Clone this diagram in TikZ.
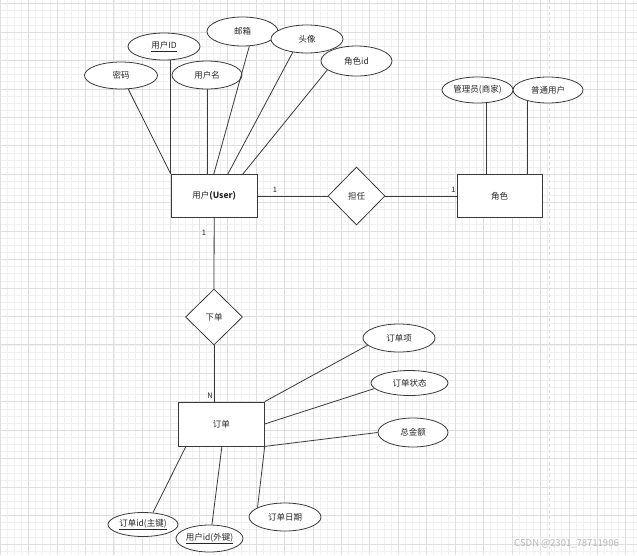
\documentclass[tikz,border=0pt]{standalone}
\usepackage{fontspec}
\setmainfont{Noto Sans CJK SC}
\usetikzlibrary{shapes.geometric,calc}
\definecolor{minorgrid}{HTML}{F0F0F0}
\definecolor{majorgrid}{HTML}{DEDEDE}
\definecolor{edgec}{HTML}{3A3A3A}
\definecolor{wmc}{HTML}{B4B4B4}
\tikzset{
  lbl/.style={font=\fontsize{8.5}{10}\selectfont, text=black!85},
  entity/.style={lbl, draw=edgec, line width=0.8pt, fill=white, minimum width=86pt, minimum height=43pt, inner sep=0pt},
  attr/.style={lbl, ellipse, draw=edgec, line width=0.8pt, fill=white, inner sep=0pt},
  rel/.style={lbl, diamond, aspect=1, draw=edgec, line width=0.8pt, fill=white, inner sep=0pt},
  conn/.style={draw=edgec, line width=0.8pt},
  card/.style={font=\fontsize{7.5}{8}\selectfont, inner sep=0pt, text=black!85},
  minorline/.style={draw=minorgrid, line width=0.5pt},
  majorline/.style={draw=majorgrid, line width=0.6pt}
}
\begin{document}
\begin{tikzpicture}[x=1pt,y=-1pt]
\useasboundingbox (0,0) rectangle (637,555);
\fill[white] (0,0) rectangle (637,555);
% grid
\foreach \i in {0,...,90} \draw[minorline] ({\i*7.11},0) -- ({\i*7.11},555);
\foreach \i in {0,...,78} \draw[minorline] (0,{3.5+\i*7.11}) -- (637,{3.5+\i*7.11});
\foreach \i in {0,...,22} \draw[majorline] ({\i*28.44},0) -- ({\i*28.44},555);
\foreach \i in {0,...,19} \draw[majorline] (0,{3.5+\i*28.44}) -- (637,{3.5+\i*28.44});
\draw[draw=majorgrid, line width=1pt, dash pattern=on 3pt off 3pt] (549,0) -- (549,555);

% entities
\node[entity] (user) at (214.2,196) {用户\textbf{(User)}};
\node[entity, minimum width=85pt] (role) at (499.5,196) {角色};
\node[entity, minimum height=44pt] (order) at (221.3,424) {订单};

% relationships
\node[rel, minimum width=57pt, minimum height=58pt] (assign) at (356.5,196) {担任};
\node[rel, minimum width=57pt, minimum height=56pt] (place) at (214,317) {下单};

% attributes
\node[attr, minimum width=73pt, minimum height=27pt] (pw) at (121,75.5) {密码};
\node[attr, minimum width=72pt, minimum height=27pt] (uid) at (164,46.5) {\underline{用户ID}};
\node[attr, minimum width=70pt, minimum height=28pt] (uname) at (207,75) {用户名};
\node[attr, minimum width=71pt, minimum height=29pt] (mail) at (242.5,31.5) {邮箱};
\node[attr, minimum width=72pt, minimum height=28pt] (head) at (307,39) {头像};
\node[attr, minimum width=71pt, minimum height=30pt] (roleid) at (356.5,61) {角色id};
\node[attr, minimum width=71pt, minimum height=26pt] (admin) at (477.5,90) {管理员(商家)};
\node[attr, minimum width=70pt, minimum height=26pt] (normal) at (548,90) {普通用户};
\node[attr, minimum width=72pt, minimum height=28pt] (item) at (399,338) {订单项};
\node[attr, minimum width=77pt, minimum height=25pt] (status) at (409.5,383) {订单状态};
\node[attr, minimum width=70pt, minimum height=29pt] (total) at (413,432.5) {总金额};
\node[attr, minimum width=70pt, minimum height=24pt] (oid) at (143,524.5) {\underline{订单id(主键)}};
\node[attr, minimum width=63pt, minimum height=27pt] (uidf) at (209.5,538.5) {\underline{用户id(外键)}};
\node[attr, minimum width=72pt, minimum height=28pt] (odate) at (285,517) {订单日期};

% helper points on entity borders
\coordinate (umail) at ($(user.north west)+(43,0)$);
\coordinate (uhead) at ($(user.north west)+(57,0)$);
\coordinate (urole) at ($(user.north west)+(72,0)$);
\coordinate (radmin) at ($(role.north west)+(30,0)$);
\coordinate (ooid) at ($(order.south west)+(8,0)$);
\coordinate (ouidf) at ($(order.south west)+(44,0)$);

% connectors: user attributes
\draw[conn] (pw.-62) -- (user.north west);
\draw[conn] (uid.south -| user.north west) -- (user.north west);
\draw[conn] (uname.south) -- (uname.south |- user.north);
\draw[conn] (mail.-65) -- (umail);
\draw[conn] (head.-137) -- (uhead);
\draw[conn] (roleid.-163) -- (urole);
% role attributes
\draw[conn] (radmin |- admin.south) -- (radmin);
\draw[conn] (normal.-152) -- (normal.-152 |- role.north);
% relationships
\draw[conn] (user.east) -- (assign.west);
\draw[conn] (assign.east) -- (role.west);
\draw[conn] (user.south) -- (place.north);
\draw[conn] (place.south) -- (place.south |- order.north);
% order attributes
\draw[conn] (order.north east) -- (item.-167);
\draw[conn] (order.east) -- (status.-171);
\draw[conn] (order.south east) -- (total.west);
\draw[conn] (ooid) -- (oid.50);
\draw[conn] (ouidf) -- (uidf.80);
\draw[conn] (order.south east) -- (odate.161);

% cardinalities
\node[card] (c1) at (275,189.5) {1};
\node[card] (c2) at (453.5,189.5) {1};
\node[card] (c3) at (204,233) {1};
\node[card] (c4) at (210,396) {N};

% watermark
\node[font=\fontsize{9.5}{10}\selectfont, text=wmc, anchor=east, inner sep=0pt] (wm) at (619,544) {CSDN @2301\_78711906};
\end{tikzpicture}
\end{document}
